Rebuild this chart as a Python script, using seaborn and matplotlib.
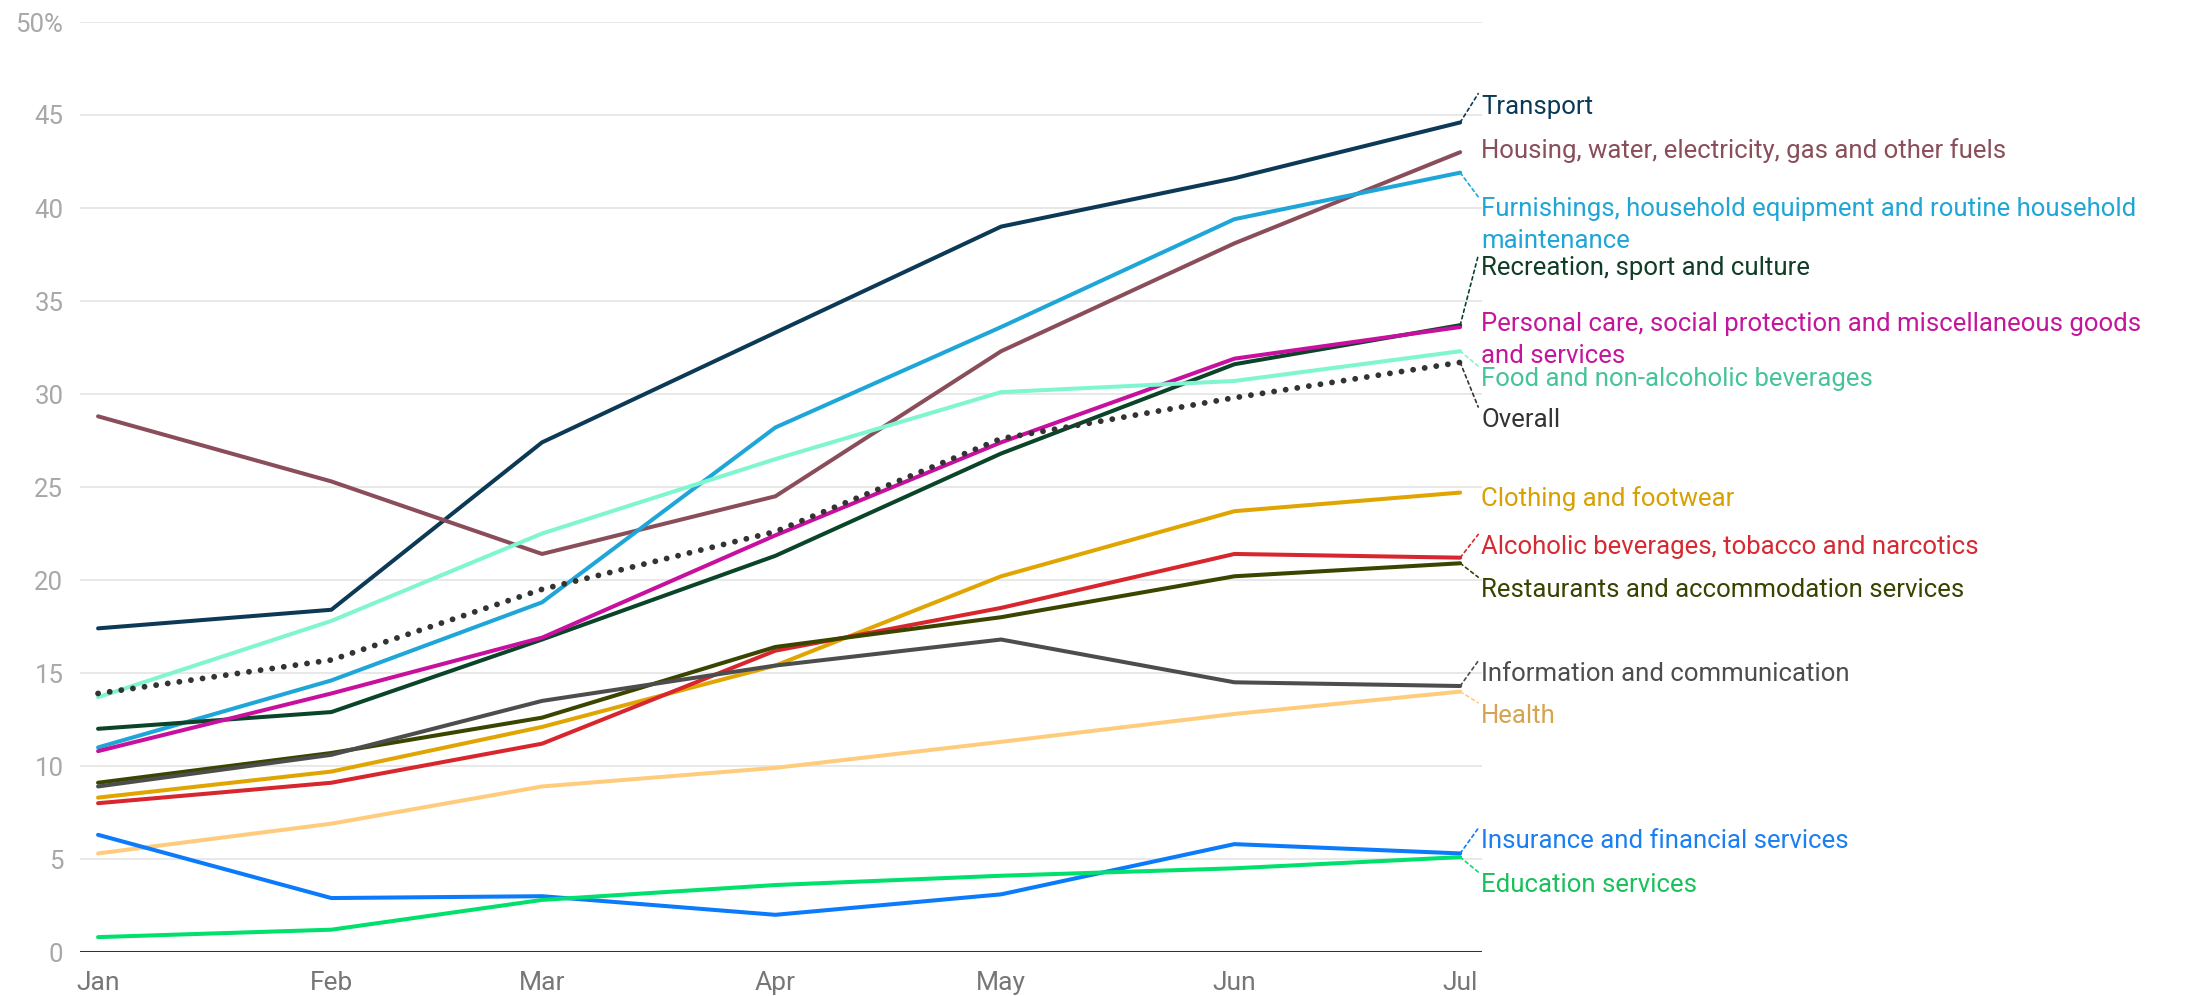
"""Year-to-date price change by consumption category, Jan-Jul."""

import matplotlib

matplotlib.use("Agg")

import matplotlib.dates as mdates
import matplotlib.pyplot as plt
import matplotlib.transforms as mtransforms
import pandas as pd
import seaborn as sns

MONTHS = ["2022-01-01", "2022-02-01", "2022-03-01", "2022-04-01", "2022-05-01", "2022-06-01", "2022-07-01"]

transport = [17.4, 18.4, 27.4, 33.3, 39.0, 41.6, 44.6]
housing = [28.8, 25.3, 21.4, 24.5, 32.3, 38.1, 43.0]
furnishings = [11.0, 14.6, 18.8, 28.2, 33.6, 39.4, 41.9]
recreation = [12.0, 12.9, 16.8, 21.3, 26.8, 31.6, 33.7]
personal_care = [10.8, 13.9, 16.9, 22.4, 27.4, 31.9, 33.6]
food = [13.7, 17.8, 22.5, 26.5, 30.1, 30.7, 32.3]
overall = [13.9, 15.7, 19.5, 22.6, 27.6, 29.8, 31.7]
clothing = [8.3, 9.7, 12.1, 15.4, 20.2, 23.7, 24.7]
alcohol = [8.0, 9.1, 11.2, 16.2, 18.5, 21.4, 21.2]
restaurants = [9.1, 10.7, 12.6, 16.4, 18.0, 20.2, 20.9]
information = [8.9, 10.6, 13.5, 15.4, 16.8, 14.5, 14.3]
health = [5.3, 6.9, 8.9, 9.9, 11.3, 12.8, 14.0]
insurance = [6.3, 2.9, 3.0, 2.0, 3.1, 5.8, 5.3]
education = [0.8, 1.2, 2.8, 3.6, 4.1, 4.5, 5.1]

SERIES = {
    "Transport": transport,
    "Housing, water, electricity, gas and other fuels": housing,
    "Furnishings, household equipment and routine household maintenance": furnishings,
    "Recreation, sport and culture": recreation,
    "Personal care, social protection and miscellaneous goods and services": personal_care,
    "Food and non-alcoholic beverages": food,
    "Clothing and footwear": clothing,
    "Alcoholic beverages, tobacco and narcotics": alcohol,
    "Restaurants and accommodation services": restaurants,
    "Information and communication": information,
    "Health": health,
    "Insurance and financial services": insurance,
    "Education services": education,
    "Overall": overall,
}

# line colour, label colour
COLORS = {
    "Transport": ("#0c3a56", "#0c3a56"),
    "Housing, water, electricity, gas and other fuels": ("#8a4e5b", "#8a4e5b"),
    "Furnishings, household equipment and routine household maintenance": ("#1ea6d9", "#20a6d6"),
    "Recreation, sport and culture": ("#0b4529", "#0f3d26"),
    "Personal care, social protection and miscellaneous goods and services": ("#c8109e", "#c4169c"),
    "Food and non-alcoholic beverages": ("#7ff5d0", "#46c39a"),
    "Clothing and footwear": ("#e0a500", "#d8a000"),
    "Alcoholic beverages, tobacco and narcotics": ("#d7262d", "#d62a32"),
    "Restaurants and accommodation services": ("#3a4500", "#3a4200"),
    "Information and communication": ("#4d4d4d", "#4d4d4d"),
    "Health": ("#ffcc7e", "#d6a34f"),
    "Insurance and financial services": ("#0b7bfb", "#1a7ff0"),
    "Education services": ("#00e06c", "#19c05b"),
    "Overall": ("#333333", "#333333"),
}

# label layout at the right end: (text, y of first line centre)
LABELS = {
    "Transport": ("Transport", 45.45),
    "Housing, water, electricity, gas and other fuels": ("Housing, water, electricity, gas and other fuels", 43.1),
    "Furnishings, household equipment and routine household maintenance": (
        "Furnishings, household equipment and routine household\nmaintenance", 39.9),
    "Recreation, sport and culture": ("Recreation, sport and culture", 36.75),
    "Personal care, social protection and miscellaneous goods and services": (
        "Personal care, social protection and miscellaneous goods\nand services", 33.7),
    "Food and non-alcoholic beverages": ("Food and non-alcoholic beverages", 30.8),
    "Overall": ("Overall", 28.6),
    "Clothing and footwear": ("Clothing and footwear", 24.4),
    "Alcoholic beverages, tobacco and narcotics": ("Alcoholic beverages, tobacco and narcotics", 21.75),
    "Restaurants and accommodation services": ("Restaurants and accommodation services", 19.45),
    "Information and communication": ("Information and communication", 14.95),
    "Health": ("Health", 12.7),
    "Insurance and financial services": ("Insurance and financial services", 5.95),
    "Education services": ("Education services", 3.6),
}

Y_TICKS = list(range(0, 55, 5))
Y_TICK_LABELS = [str(t) for t in Y_TICKS[:-1]] + ["50%"]

FONT_SIZE = 18.5
TICK_SIZE = 18.5


def build_frame() -> pd.DataFrame:
    rows = []
    for name, values in SERIES.items():
        for month, value in zip(MONTHS, values):
            rows.append({"series": name, "date": pd.Timestamp(month), "value": value})
    return pd.DataFrame(rows)


def main() -> None:
    sns.set_theme(style="white")
    plt.rcParams["font.family"] = ["Roboto", "DejaVu Sans"]
    plt.rcParams["lines.dash_capstyle"] = "round"
    plt.rcParams["lines.solid_capstyle"] = "round"

    df = build_frame()
    solid = df[df["series"] != "Overall"]
    total = df[df["series"] == "Overall"]

    fig = plt.figure(figsize=(21.88, 9.96), dpi=100)
    ax = fig.add_axes([80 / 2188, 1 - 952 / 996, (1482 - 80) / 2188, (952 - 22) / 996])

    palette = {name: COLORS[name][0] for name in SERIES}
    sns.lineplot(data=solid, x="date", y="value", hue="series", palette=palette,
                 linewidth=2.9, legend=False, ax=ax, sort=False)
    sns.lineplot(data=total, x="date", y="value", color=COLORS["Overall"][0],
                 linewidth=4.2, linestyle=(0, (0.01, 2.0)), legend=False, ax=ax)

    first = pd.Timestamp(MONTHS[0])
    last = pd.Timestamp(MONTHS[-1])
    ax.set_xlim(first - pd.Timedelta(days=2.4), last + pd.Timedelta(days=2.9))
    ax.set_ylim(0, 50)

    ax.set_yticks(Y_TICKS)
    ax.set_yticklabels(Y_TICK_LABELS)
    ax.yaxis.grid(True, color="#e6e6e6", linewidth=1.3)
    ax.xaxis.grid(False)
    ax.axhline(0, color="#333333", linewidth=2.2, zorder=3)
    ax.xaxis.set_major_locator(mdates.MonthLocator())
    ax.xaxis.set_major_formatter(mdates.DateFormatter("%b"))
    ax.tick_params(axis="y", length=0, pad=12, labelsize=TICK_SIZE, labelcolor="#a8a8a8")
    ax.tick_params(axis="x", length=0, pad=14, labelsize=TICK_SIZE + 0.5, labelcolor="#777777")
    for label in ax.get_yticklabels():
        label.set_verticalalignment("center_baseline")
    for spine in ax.spines.values():
        spine.set_visible(False)
    ax.set_xlabel("")
    ax.set_ylabel("")

    # right-hand labels with dashed connectors
    text_x = last + pd.Timedelta(days=2.8)
    tip_x = last + pd.Timedelta(days=2.4)
    font_px = FONT_SIZE * fig.dpi / 72
    two_line_shift = ax.transData + mtransforms.ScaledTranslation(0, 0.5 * font_px / fig.dpi, fig.dpi_scale_trans)
    for name, (text, label_y) in LABELS.items():
        line_color, text_color = COLORS[name]
        end_value = SERIES[name][-1]
        tip_y = label_y + 0.7
        if abs(label_y - end_value) > 0.4:
            ax.plot([last, tip_x], [end_value, tip_y], color=line_color, linewidth=1.2,
                    linestyle=(0, (2, 2)), clip_on=False, zorder=4)
        multi = "\n" in text
        ax.text(text_x, label_y, text, color=text_color, fontsize=FONT_SIZE,
                ha="left", va="top" if multi else "center", linespacing=1.4,
                clip_on=False, transform=two_line_shift if multi else ax.transData)

    fig.savefig("out.png", dpi=100, facecolor="white")
    plt.close(fig)


if __name__ == "__main__":
    main()
